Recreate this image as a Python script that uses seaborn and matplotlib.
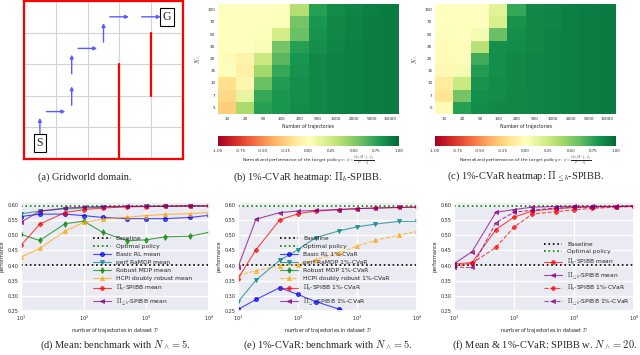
import numpy as np
import pandas as pd
import seaborn as sns
import matplotlib.pyplot as plt

sns.set_theme(style='darkgrid')
plt.rcParams['font.family'] = ['DejaVu Sans']
plt.rcParams['mathtext.fontset'] = 'cm'

# ---- data ----
n_traj = [10, 20, 50, 100, 200, 500, 1000, 2000, 5000, 10000]
n_wedge = [100, 70, 50, 30, 20, 15, 10, 7, 5]

# heatmaps, rows top (100) to bottom (5)
heat_pi_b = [
    [0.00, 0.00, 0.00, 0.01, 0.35, 0.76, 0.85, 0.88, 0.90, 0.92],
    [0.00, 0.00, 0.00, 0.02, 0.55, 0.80, 0.86, 0.89, 0.91, 0.92],
    [0.00, 0.00, 0.01, 0.22, 0.58, 0.82, 0.87, 0.89, 0.91, 0.92],
    [0.00, 0.00, 0.03, 0.55, 0.76, 0.84, 0.88, 0.90, 0.91, 0.92],
    [-0.02, -0.08, 0.25, 0.63, 0.80, 0.86, 0.89, 0.90, 0.91, 0.92],
    [0.01, -0.10, 0.40, 0.72, 0.82, 0.86, 0.89, 0.90, 0.91, 0.92],
    [-0.18, -0.06, 0.58, 0.78, 0.84, 0.87, 0.89, 0.90, 0.91, 0.92],
    [-0.22, 0.12, 0.72, 0.80, 0.84, 0.87, 0.89, 0.90, 0.91, 0.92],
    [-0.27, 0.38, 0.76, 0.81, 0.85, 0.87, 0.89, 0.90, 0.91, 0.92],
]
heat_pi_leq_b = [
    [0.00, 0.00, 0.00, 0.15, 0.72, 0.86, 0.88, 0.90, 0.91, 0.92],
    [0.00, 0.00, 0.00, 0.20, 0.82, 0.86, 0.88, 0.90, 0.91, 0.92],
    [-0.01, 0.00, 0.05, 0.58, 0.84, 0.87, 0.89, 0.90, 0.91, 0.92],
    [-0.02, -0.01, 0.32, 0.83, 0.85, 0.87, 0.89, 0.90, 0.91, 0.92],
    [-0.03, -0.02, 0.70, 0.84, 0.86, 0.88, 0.89, 0.90, 0.91, 0.92],
    [-0.05, 0.05, 0.78, 0.84, 0.86, 0.88, 0.89, 0.90, 0.91, 0.92],
    [-0.12, 0.25, 0.82, 0.85, 0.86, 0.88, 0.89, 0.90, 0.91, 0.92],
    [-0.16, 0.55, 0.84, 0.85, 0.87, 0.88, 0.89, 0.90, 0.91, 0.92],
    [-0.02, 0.76, 0.85, 0.86, 0.87, 0.88, 0.89, 0.90, 0.91, 0.92],
]

baseline_perf = 0.403
optimal_perf = 0.597

# (d) mean, N=5
d_basic_rl = [0.562, 0.570, 0.570, 0.565, 0.559, 0.555, 0.555, 0.555, 0.559, 0.566]
d_ramdp = [0.571, 0.580, 0.587, 0.590, 0.593, 0.595, 0.596, 0.596, 0.597, 0.597]
d_robust = [0.503, 0.483, 0.538, 0.547, 0.510, 0.482, 0.485, 0.495, 0.497, 0.510]
d_hcpi = [0.428, 0.457, 0.513, 0.543, 0.553, 0.560, 0.565, 0.569, 0.572, 0.575]
d_pib = [0.467, 0.537, 0.575, 0.585, 0.590, 0.594, 0.595, 0.596, 0.597, 0.597]
d_pileqb = [0.543, 0.580, 0.590, 0.593, 0.595, 0.596, 0.596, 0.596, 0.597, 0.597]

# (e) 1%-CVaR, N=5
e_basic_rl = [0.255, 0.288, 0.327, 0.305, 0.281, 0.256, 0.235, 0.220, 0.210, 0.200]
e_ramdp = [0.280, 0.352, 0.417, 0.452, 0.492, 0.515, 0.528, 0.537, 0.546, 0.546]
e_robust = [0.200, 0.200, 0.200, 0.200, 0.200, 0.200, 0.200, 0.200, 0.200, 0.200]
e_hcpi = [0.368, 0.383, 0.400, 0.403, 0.420, 0.442, 0.465, 0.483, 0.501, 0.513]
e_pib = [0.357, 0.452, 0.551, 0.571, 0.580, 0.585, 0.588, 0.590, 0.592, 0.593]
e_pileqb = [0.395, 0.553, 0.575, 0.580, 0.582, 0.585, 0.588, 0.590, 0.592, 0.593]

# (f) SPIBB, N=20
f_pib_mean = [0.405, 0.410, 0.519, 0.560, 0.580, 0.588, 0.592, 0.594, 0.595, 0.596]
f_pileqb_mean = [0.406, 0.446, 0.576, 0.585, 0.593, 0.595, 0.596, 0.596, 0.596, 0.597]
f_pib_cvar = [0.398, 0.408, 0.460, 0.527, 0.570, 0.578, 0.584, 0.589, 0.593, 0.595]
f_pileqb_cvar = [0.395, 0.394, 0.542, 0.576, 0.583, 0.590, 0.592, 0.593, 0.595, 0.596]

# gridworld
grid_size = 5
path_cells = [(0, 0), (0, 1), (1, 1), (1, 2), (1, 3), (2, 3), (2, 4), (3, 4), (4, 4)]
walls = [((3, 0), (3, 3)), ((4, 2), (4, 4))]
start_cell = (0, 0)
goal_cell = (4, 4)

W, H = 640, 355
fig = plt.figure(figsize=(W / 100, H / 100), dpi=100)


def px_axes(x0, y0, x1, y1):
    return fig.add_axes([x0 / W, 1 - y1 / H, (x1 - x0) / W, (y1 - y0) / H])


cap_font = dict(family='Liberation Serif', fontsize=7.5, ha='center', va='center')

# ---- (a) gridworld ----
ax = px_axes(24, 1, 183, 159)
ax.set_facecolor('white')
ax.set_xlim(0, grid_size)
ax.set_ylim(0, grid_size)
ax.set_xticks(range(grid_size + 1))
ax.set_yticks(range(grid_size + 1))
ax.set_xticklabels([])
ax.set_yticklabels([])
ax.tick_params(length=0)
ax.grid(True, color='#d3d3d3', linewidth=0.8)
for s in ax.spines.values():
    s.set_visible(True)
    s.set_color('red')
    s.set_linewidth(1.6)
for (x0, y0), (x1, y1) in walls:
    ax.plot([x0, x1], [y0, y1], color='red', linewidth=1.6)
for (c0, r0), (c1, r1) in zip(path_cells[:-1], path_cells[1:]):
    mx, my = (c0 + c1) / 2 + 0.5, (r0 + r1) / 2 + 0.5
    dx, dy = (c1 - c0) * 0.3, (r1 - r0) * 0.3
    ax.annotate('', xy=(mx + dx, my + dy), xytext=(mx - dx, my - dy),
                arrowprops=dict(arrowstyle='-|>', color='#5a5aff', lw=1.0,
                                mutation_scale=5, shrinkA=0, shrinkB=0))
for lab, (cx, cy) in [('S', start_cell), ('G', goal_cell)]:
    ax.text(cx + 0.5, cy + 0.5, lab, family='Liberation Serif', fontsize=8.5,
            ha='center', va='center',
            bbox=dict(boxstyle='square,pad=0.25', fc='white', ec='black', lw=0.8))
fig.text(85 / W, 1 - 177 / H, '(a) Gridworld domain.', **cap_font)

# ---- (b), (c) heatmaps ----
cbar_label = (r'Normalized performance of the target policy $\pi$: '
              r'$\rho = \frac{\rho(\pi, M^*) - \rho_b}{\rho^* - \rho_b}$')
heat_specs = [
    (heat_pi_b, 218, 399, 308, r'(b) 1%-CVaR heatmap: $\Pi_b$-SPIBB.'),
    (heat_pi_leq_b, 435, 616, 526, r'(c) 1%-CVaR heatmap: $\Pi_{\leq b}$-SPIBB.'),
]
for vals, x0, x1, xc, caption in heat_specs:
    df = pd.DataFrame(vals, index=n_wedge, columns=n_traj)
    ax = px_axes(x0, 4, x1, 114)
    cax = px_axes(x0, 136, x1, 146)
    sns.heatmap(df, cmap='RdYlGn', vmin=-1, vmax=1, ax=ax, cbar_ax=cax,
                xticklabels=True, yticklabels=True,
                cbar_kws={'orientation': 'horizontal', 'ticks': np.linspace(-1, 1, 9),
                          'format': '%.2f'})
    ax.tick_params(labelsize=3, length=0, pad=2)
    ax.tick_params(axis='x', labelrotation=0)
    ax.tick_params(axis='y', labelrotation=0)
    ax.set_xlabel('Number of trajectories', fontsize=3.3, labelpad=2)
    ax.set_ylabel(r'$N_\wedge$', fontsize=4, labelpad=3)
    cax.tick_params(labelsize=2.8, length=0, pad=2)
    cax.set_xlabel(cbar_label, fontsize=3.2, labelpad=1)
    ax.collections[0].colorbar.outline.set_visible(False)
    fig.text(xc / W, 1 - 177 / H, caption, **cap_font)

# ---- (d), (e), (f) line plots ----
series_style = {
    'Basic RL': ('#0000ff', 'o'),
    'perf RaMDP': ('#008080', 'v'),
    'Robust MDP': ('#008000', 'd'),
    'HCPI doubly robust': ('#ffa500', '^'),
    r'$\Pi_b$-SPIBB': ('#ff0000', 'P'),
    r'$\Pi_{\leq b}$-SPIBB': ('#800080', '<'),
}

panels = [
    (21, 209, 115, r'(d) Mean: benchmark with $N_\wedge = 5$.',
     [('Basic RL', 'mean', d_basic_rl, '-'), ('perf RaMDP', 'mean', d_ramdp, '-'),
      ('Robust MDP', 'mean', d_robust, '-'), ('HCPI doubly robust', 'mean', d_hcpi, '-'),
      (r'$\Pi_b$-SPIBB', 'mean', d_pib, '-'), (r'$\Pi_{\leq b}$-SPIBB', 'mean', d_pileqb, '-')],
     (0.93, 0.0)),
    (238, 417, 328, r'(e) 1%-CVaR: benchmark with $N_\wedge = 5$.',
     [('Basic RL', '1%-CVaR', e_basic_rl, '-'), ('perf RaMDP', '1%-CVaR', e_ramdp, '-'),
      ('Robust MDP', '1%-CVaR', e_robust, '-'), ('HCPI doubly robust', '1%-CVaR', e_hcpi, '--'),
      (r'$\Pi_b$-SPIBB', '1%-CVaR', e_pib, '-'), (r'$\Pi_{\leq b}$-SPIBB', '1%-CVaR', e_pileqb, '-')],
     (0.87, 0.0)),
    (454, 634, 545, r'(f) Mean & 1%-CVaR: SPIBB w. $N_\wedge = 20$.',
     [(r'$\Pi_b$-SPIBB', 'mean', f_pib_mean, '-'), (r'$\Pi_{\leq b}$-SPIBB', 'mean', f_pileqb_mean, '-'),
      (r'$\Pi_b$-SPIBB', '1%-CVaR', f_pib_cvar, '--'), (r'$\Pi_{\leq b}$-SPIBB', '1%-CVaR', f_pileqb_cvar, '--')],
     (1.0, 0.0)),
]

for x0, x1, xc, caption, series, anchor in panels:
    ax = px_axes(x0, 202, x1, 311)
    ax.axhline(baseline_perf, color='black', linestyle=':', linewidth=1.2, label='Baseline')
    ax.axhline(optimal_perf, color='#008000', linestyle=':', linewidth=1.2, label='Optimal policy')
    for name, stat, vals, ls in series:
        color, marker = series_style[name]
        sns.lineplot(x=n_traj, y=vals, ax=ax, color=color, marker=marker, linestyle=ls,
                     linewidth=0.8, markersize=3, markeredgecolor=color, markeredgewidth=0.6,
                     alpha=0.7, label=f'{name} {stat}')
    ax.set_xscale('log')
    ax.set_xlim(10, 10000)
    ax.set_ylim(0.25, 0.61)
    ax.set_yticks(np.arange(0.25, 0.601, 0.05))
    ax.yaxis.set_major_formatter(plt.FormatStrFormatter('%.2f'))
    ax.tick_params(labelsize=3.5, length=0, pad=2)
    ax.set_xlabel(r'number of trajectories in dataset $\mathcal{D}$', fontsize=3.5, labelpad=2)
    ax.set_ylabel('performance', fontsize=3.5, labelpad=2)
    ax.legend(loc='lower right', bbox_to_anchor=anchor, frameon=False, fontsize=4.3,
              handlelength=3, labelspacing=0.45, borderaxespad=0.3)
    fig.text(xc / W, 1 - 345 / H, caption, **cap_font)

fig.savefig('out.png', dpi=100)
